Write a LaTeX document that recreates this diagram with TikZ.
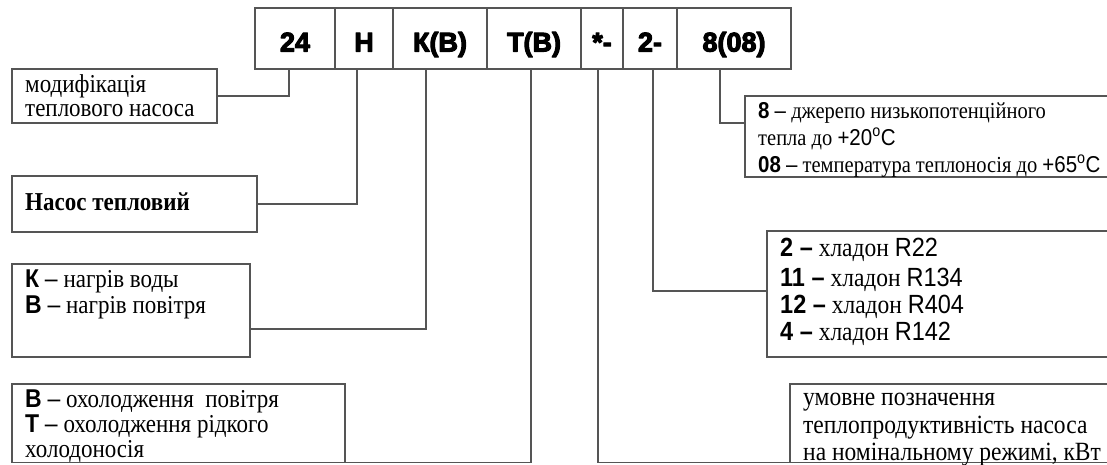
\documentclass[tikz,border=0pt]{standalone}
\usepackage{graphicx}
\usepackage{fontspec}
\setmainfont{Liberation Serif}
\setsansfont{Liberation Sans}
\definecolor{linegray}{RGB}{85,85,85}
\newcommand\pre[1]{{\sffamily\bfseries #1}}
\newcommand\sfr[1]{{\sffamily #1}}
\newcommand\code[1]{{\fontsize{27}{27}\sffamily\bfseries\selectfont\special{pdf:literal direct 0 0 0 RG 1.1 w 1 j 2 Tr}#1\special{pdf:literal direct 0 Tr}}}
\newcommand\vs[1]{\scalebox{1}[1.12]{#1}}
\begin{document}
\begin{tikzpicture}[x=1pt,y=-1pt]
\tikzset{
  frame/.style={draw=linegray, line width=1.4pt, inner sep=0pt, outer sep=0pt, rectangle},
  cell/.style={frame, minimum height=61pt, text height=26pt, text depth=0pt},
  box/.style={frame, anchor=north west},
  txt/.style={anchor=base west, inner sep=0pt, font=\fontsize{23}{26}\selectfont},
  smalltxt/.style={txt, font=\fontsize{20.5}{26}\selectfont},
  bigtxt/.style={txt, font=\fontsize{23.5}{26}\selectfont},
  conn/.style={draw=linegray, line width=1.4pt},
}
\useasboundingbox (0,0) rectangle (1107,464);
\clip (0,0) rectangle (1107,464);
\fill[white] (0,0) rectangle (1107,464);

% top code row
\node[cell, minimum width=80pt]  (c24) at (295,38.5) {\code{24}};
\node[cell, minimum width=58pt]  (cH)  at (364,38.5) {\code{Н}};
\node[cell, minimum width=94pt]  (cK)  at (440,38.5) {\code{К(В)}};
\node[cell, minimum width=94pt]  (cT)  at (534,38.5) {\code{Т(В)}};
\node[cell, minimum width=42pt]  (cS)  at (602,38.5) {\code{*-}};
\node[cell, minimum width=54pt]  (c2)  at (650,38.5) {\code{2-}};
\node[cell, minimum width=114pt] (c8)  at (734,38.5) {\code{8(08)}};

% explanation boxes
\node[box, minimum width=205pt, minimum height=54pt]  (b1) at (12,69) {};
\node[box, minimum width=245pt, minimum height=56pt]  (b2) at (12,176) {};
\node[box, minimum width=238pt, minimum height=93pt]  (b3) at (12,264) {};
\node[box, minimum width=333pt, minimum height=78.5pt] (b4) at (12,384) {};
\node[box, minimum width=400pt, minimum height=81pt]  (b5) at (745,96) {};
\node[box, minimum width=400pt, minimum height=126pt] (b6) at (767,231) {};
\node[box, minimum width=400pt, minimum height=78.5pt] (b7) at (790,384) {};

% texts
\node[txt] (t11) at (25,92)  {\vs{модифікація}};
\node[txt] (t12) at (25,116) {\vs{теплового насоса}};

\node[txt, font=\fontsize{23}{26}\bfseries\selectfont] (t21) at (25,210.5) {\vs{Насос тепловий}};

\node[txt] (t31) at (25,287) {\vs{\pre{К} \sfr{–} нагрів воды}};
\node[txt] (t32) at (25,313) {\vs{\pre{В} \sfr{–} нагрів повітря}};

\node[txt] (t41) at (25,407) {\vs{\pre{В} \sfr{–} охолодження\ \ повітря}};
\node[txt] (t42) at (25,432) {\vs{\pre{Т} \sfr{–} охолодження рідкого}};
\node[txt] (t43) at (25,457) {\vs{холодоносія}};

\node[smalltxt] (t51) at (758,118) {\vs{\pre{8} \sfr{–} джерепо низькопотенційного}};
\node[smalltxt] (t52) at (758,145) {\vs{тепла до \sfr{+20\textsuperscript{o}C}}};
\node[smalltxt] (t53) at (758,172) {\vs{\pre{08} \sfr{–} температура теплоносія до \sfr{+65\textsuperscript{o}C}}};

\node[bigtxt] (t61) at (780,256) {\vs{\pre{2 –} хладон \sfr{R22}}};
\node[bigtxt] (t62) at (780,286) {\vs{\pre{11 –} хладон \sfr{R134}}};
\node[bigtxt] (t63) at (780,313) {\vs{\pre{12 –} хладон \sfr{R404}}};
\node[bigtxt] (t64) at (780,340) {\vs{\pre{4 –} хладон \sfr{R142}}};

\node[bigtxt] (t71) at (803,405) {\vs{умовне позначення}};
\node[bigtxt] (t72) at (803,433) {\vs{теплопродуктивність насоса}};
\node[bigtxt] (t73) at (803,460) {\vs{на номінальному режимі, кВт}};

% connectors
\draw[conn] ([xshift=-6pt]c24.south) |- (b1.east);
\draw[conn] ([xshift=-7pt]cH.south) |- (b2.east);
\draw[conn] ([xshift=-14pt]cK.south) |- ([yshift=-18.5pt]b3.east);
\draw[conn] ([xshift=-3pt]cT.south) |- (b4.south east);
\draw[conn] ([xshift=-4pt]cS.south) |- (b7.south west);
\draw[conn] ([xshift=3pt]c2.south) |- ([yshift=3pt]b6.west);
\draw[conn] ([xshift=-14pt]c8.south) |- ([yshift=13.5pt]b5.west);
\end{tikzpicture}
\end{document}
